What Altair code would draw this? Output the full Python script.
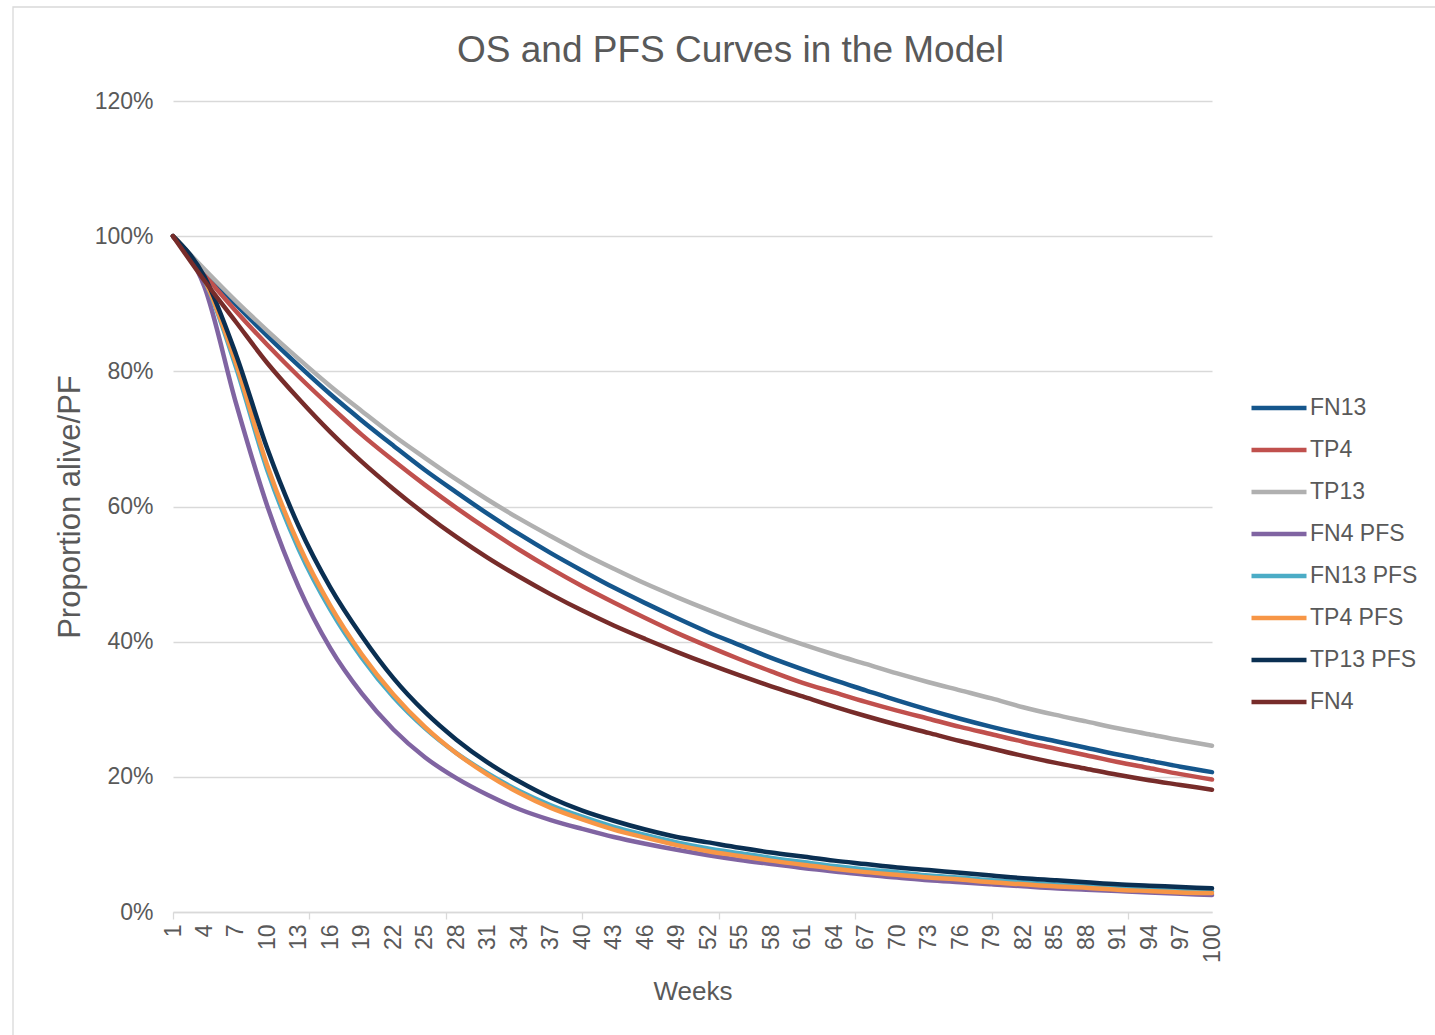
import altair as alt
import pandas as pd

# Weeks at which each curve is sampled
WEEKS = [1, 4, 7, 10, 13, 16, 19, 22, 25, 28, 31, 34, 37, 40, 43, 46, 49, 52,
         55, 58, 61, 64, 67, 70, 73, 76, 79, 82, 85, 88, 91, 94, 97, 100]

SERIES = ["FN13", "TP4", "TP13", "FN4 PFS", "FN13 PFS", "TP4 PFS", "TP13 PFS", "FN4"]
COLORS = ["#15568C", "#C0504D", "#B0B0B0", "#8064A2", "#4BACC6", "#F79646", "#0A2F52", "#772C2A"]

# Proportion alive / progression free (%) per week
FN13 = [100, 94.8, 89.9, 85.2, 80.8, 76.6, 72.7, 69.0, 65.4, 62.1, 58.9, 55.9, 53.1, 50.5,
        48.0, 45.7, 43.5, 41.4, 39.5, 37.6, 35.9, 34.3, 32.8, 31.3, 29.9, 28.6, 27.4, 26.3,
        25.3, 24.3, 23.3, 22.4, 21.5, 20.7]
TP4 = [100, 94.3, 88.9, 83.9, 79.2, 74.8, 70.6, 66.8, 63.2, 59.8, 56.6, 53.6, 50.8, 48.2,
       45.8, 43.5, 41.3, 39.3, 37.4, 35.6, 33.9, 32.5, 31.1, 29.8, 28.6, 27.4, 26.3, 25.2,
       24.2, 23.2, 22.2, 21.3, 20.4, 19.6]
TP13 = [100, 95.1, 90.4, 86.0, 81.8, 77.8, 74.1, 70.5, 67.2, 64.0, 61.0, 58.2, 55.6, 53.1,
        50.8, 48.6, 46.6, 44.7, 42.9, 41.2, 39.6, 38.1, 36.7, 35.3, 34.0, 32.8, 31.6, 30.3,
        29.2, 28.2, 27.2, 26.3, 25.4, 24.6]
FN4_PFS = [100, 92.5, 75.3, 60.0, 48.0, 39.0, 32.3, 27.0, 22.9, 19.8, 17.3, 15.2, 13.6, 12.3,
           11.1, 10.1, 9.2, 8.4, 7.7, 7.1, 6.5, 6.0, 5.5, 5.1, 4.7, 4.4, 4.1, 3.8,
           3.5, 3.3, 3.1, 2.9, 2.7, 2.5]
FN13_PFS = [100, 93.5, 80.6, 65.3, 53.6, 44.7, 37.6, 31.8, 27.2, 23.5, 20.5, 17.9, 15.8, 14.1,
            12.6, 11.4, 10.3, 9.4, 8.7, 8.0, 7.4, 6.8, 6.3, 5.9, 5.4, 5.1, 4.7, 4.4,
            4.1, 3.9, 3.6, 3.4, 3.2, 3.0]
TP4_PFS = [100, 93.6, 81.2, 66.0, 54.3, 45.3, 38.1, 32.2, 27.4, 23.5, 20.3, 17.6, 15.4, 13.7,
           12.2, 11.0, 9.9, 9.0, 8.3, 7.6, 7.0, 6.4, 5.9, 5.5, 5.1, 4.8, 4.4, 4.1,
           3.8, 3.6, 3.3, 3.1, 2.9, 2.8]
TP13_PFS = [100, 94.0, 82.5, 68.5, 57.0, 48.0, 40.8, 34.6, 29.6, 25.5, 22.1, 19.3, 16.9, 15.0,
            13.5, 12.2, 11.1, 10.3, 9.5, 8.8, 8.2, 7.6, 7.1, 6.6, 6.2, 5.8, 5.4, 5.0,
            4.7, 4.4, 4.1, 3.9, 3.7, 3.5]
FN4 = [100, 93.4, 87.3, 81.2, 75.9, 71.0, 66.6, 62.6, 58.9, 55.5, 52.4, 49.6, 47.0, 44.6,
       42.4, 40.4, 38.5, 36.7, 35.0, 33.4, 31.9, 30.4, 29.0, 27.7, 26.5, 25.3, 24.2, 23.1,
       22.1, 21.2, 20.3, 19.5, 18.8, 18.1]

VALUES = [FN13, TP4, TP13, FN4_PFS, FN13_PFS, TP4_PFS, TP13_PFS, FN4]

# Category axis: labels every 3 weeks, tick marks every 13 weeks
LABEL_WEEKS = list(range(1, 101, 3))
TICK_WEEKS = [1, 14, 27, 40, 53, 66, 79, 92]
AXIS_WEEKS = sorted(set(LABEL_WEEKS) | set(TICK_WEEKS))
Y_TICKS = [0, 20, 40, 60, 80, 100, 120]

rows = []
for name, vals in zip(SERIES, VALUES):
    for w, v in zip(WEEKS, vals):
        rows.append({"week": w, "value": v, "series": name})
df = pd.DataFrame(rows)

FONT = "Liberation Sans"
TEXT = "#595959"
GRID = "#D9D9D9"

x_enc = alt.X(
    "week:Q",
    scale=alt.Scale(domain=[1, 100], nice=False, zero=False),
    axis=alt.Axis(
        values=AXIS_WEEKS,
        labelExpr="(datum.value - 1) % 3 === 0 ? datum.label : ''",
        labelAngle=270,
        labelOverlap=False,
        labelFlush=False,
        labelFontSize=23,
        labelFont=FONT,
        labelColor=TEXT,
        labelPadding=5,
        tickSize=7,
        tickColor=GRID,
        tickWidth=1.3,
        tickOpacity={"condition": {"test": "(datum.value - 1) % 13 === 0", "value": 1}, "value": 0},
        domainColor=GRID,
        domainWidth=1.3,
        grid=False,
        title="Weeks",
        titleFontSize=26,
        titleFont=FONT,
        titleFontWeight="normal",
        titleColor=TEXT,
        titlePadding=16,
    ),
)

y_enc = alt.Y(
    "value:Q",
    scale=alt.Scale(domain=[0, 120], nice=False),
    axis=alt.Axis(
        values=Y_TICKS,
        labelExpr="datum.value + '%'",
        grid=True,
        gridColor=GRID,
        gridWidth=1.3,
        domain=False,
        ticks=False,
        labelFontSize=23,
        labelFont=FONT,
        labelColor=TEXT,
        labelPadding=20,
        title="Proportion alive/PF",
        titleFontSize=31,
        titleFont=FONT,
        titleFontWeight="normal",
        titleColor=TEXT,
        titlePadding=8,
    ),
)

color_enc = alt.Color(
    "series:N",
    scale=alt.Scale(domain=SERIES, range=COLORS),
    legend=alt.Legend(
        title=None,
        orient="none",
        legendX=1076,
        legendY=277,
        symbolType="stroke",
        symbolSize=3025,
        symbolStrokeWidth=4.5,
        labelFontSize=23,
        labelFont=FONT,
        labelColor=TEXT,
        labelOffset=1,
        rowPadding=-12.4,
        padding=0,
    ),
)

base = alt.Chart(df).mark_line(
    strokeWidth=4.5, interpolate="monotone", strokeCap="round", strokeJoin="round"
).encode(x=x_enc, y=y_enc, color=color_enc)

# One layer per series so that later series are drawn on top
layers = [base.transform_filter(alt.datum.series == s) for s in SERIES]

# Thin frame around the chart area
frame = alt.Chart(pd.DataFrame({"k": [0]})).mark_rect(
    filled=False, stroke=GRID, strokeWidth=1.3
).encode(
    x=alt.value(-160), x2=alt.value(1300), y=alt.value(-94), y2=alt.value(1000)
)

chart = alt.layer(frame, *layers).properties(
    width=1039,
    height=811,
    background="white",
    padding={"left": 173, "top": 101, "right": 223, "bottom": 123},
    autosize=alt.AutoSizeParams(type="none"),
    title=alt.TitleParams(
        "OS and PFS Curves in the Model",
        fontSize=37,
        font=FONT,
        fontWeight="normal",
        color=TEXT,
        anchor="middle",
        dx=38,
        offset=-64,
    ),
).configure_view(strokeWidth=0)

chart.save("out.html", embed_options={"renderer": "svg", "actions": False})
